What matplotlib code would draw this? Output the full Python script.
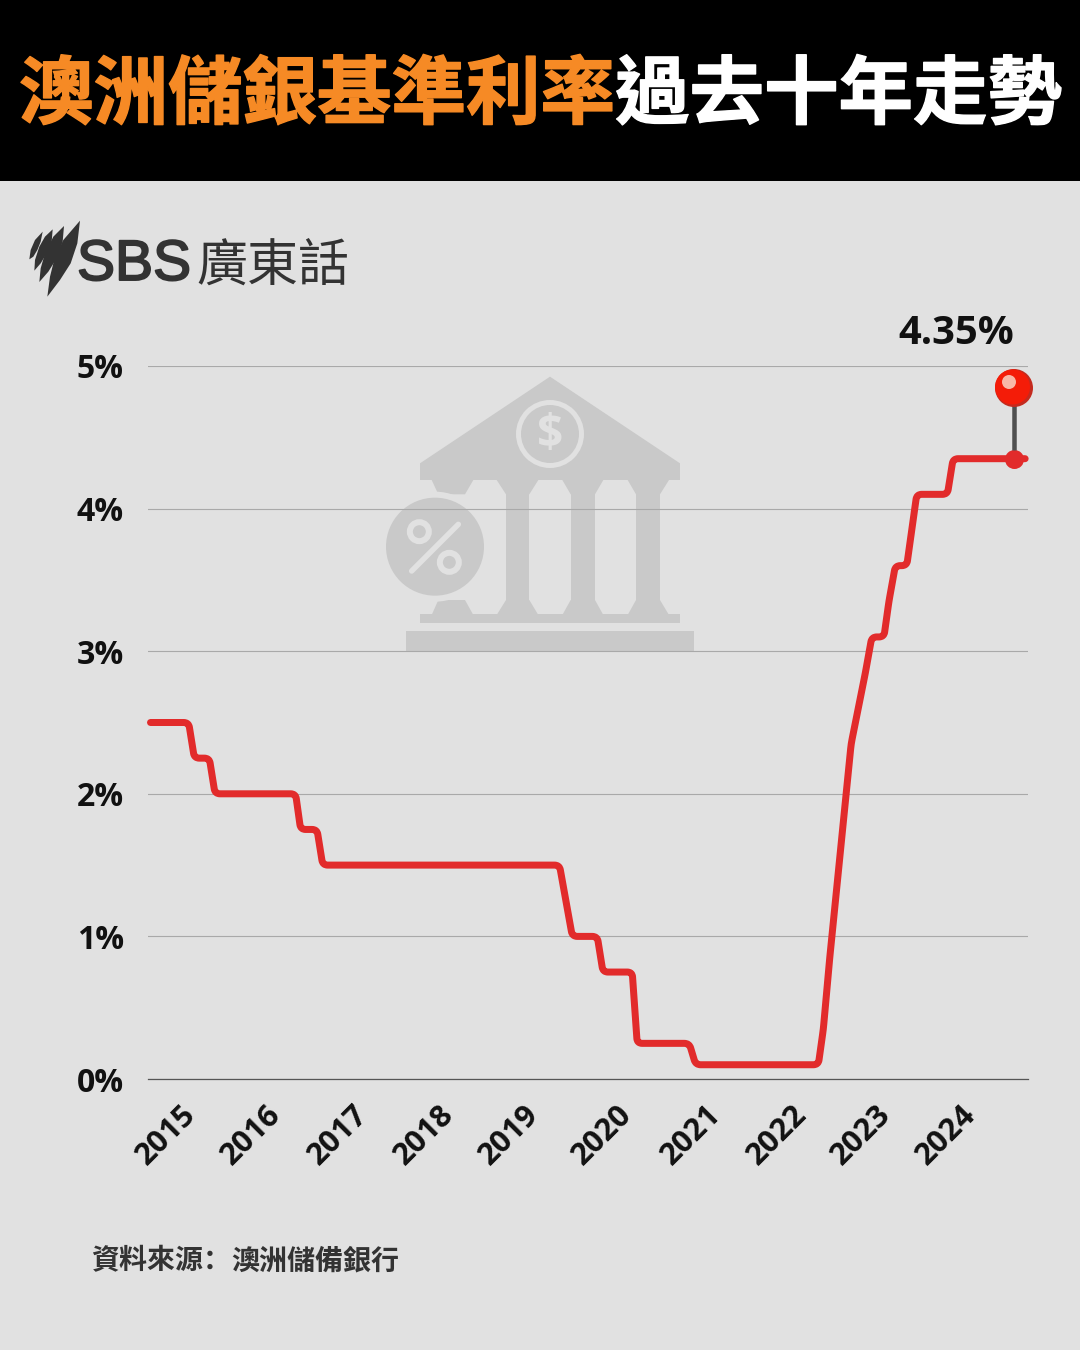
import matplotlib
matplotlib.use('Agg')
import matplotlib.pyplot as plt
import numpy as np
from matplotlib.path import Path
from matplotlib.patches import PathPatch, Polygon, Circle, Rectangle
import matplotlib.patheffects as pe

# ---------- data ----------
rows = [0.35, 5.7, 6.5, 8.6, 9.4, 20.7, 21.4, 23.7, 24.5, 57.7, 58.6, 59.5, 63.0, 63.8, 67.9, 68.6, 75.9, 76.8,
        94.0, 94.7, 95.6, 96.6, 97.6, 98.6, 99.6, 100.6, 101.5, 103.2, 103.9, 104.8, 106.4, 107.1, 107.8,
        112.1, 112.9, 123.0]
rates = [2.5, 2.5, 2.25, 2.25, 2.0, 2.0, 1.75, 1.75, 1.5, 1.5, 1.25, 1.0, 1.0, 0.75, 0.75, 0.25, 0.25, 0.10,
         0.10, 0.35, 0.85, 1.35, 1.85, 2.35, 2.60, 2.85, 3.10, 3.10, 3.35, 3.60, 3.60, 3.85, 4.10,
         4.10, 4.35, 4.35]
year_labels = ['2015', '2016', '2017', '2018', '2019', '2020', '2021', '2022', '2023', '2024']
year_rows = [4.55, 16.55, 28.65, 40.75, 52.75, 65.75, 78.15, 90.25, 102.05, 113.95]
y_ticks = [0, 1, 2, 3, 4, 5]
latest_row = 121.4
latest_rate = 4.35
title_orange = '澳洲儲銀基準利率'
title_white = '過去十年走勢'
source_label = '資料來源：'
source_name = '澳洲儲備銀行'

# ---------- style ----------
W, H = 1080, 1350
BG = '#e1e1e1'
ICON = '#c9c9c9'
RED = '#e22b2b'
CJK = ['Noto Sans CJK TC', 'DejaVu Sans']
LAT = ['Open Sans', 'DejaVu Sans']
def pt(px):
    return px * 0.72

fig = plt.figure(figsize=(W / 100, H / 100), dpi=100, facecolor=BG)

# overlay in pixel coordinates for decoration
bg = fig.add_axes([0, 0, 1, 1], zorder=0)
bg.set_xlim(0, W); bg.set_ylim(H, 0); bg.axis('off')

bg.add_patch(Rectangle((0, 0), W, 181, fc='black', ec='none'))
bg.text(19, 96, title_orange, color='#f68a25', fontsize=pt(74.5), family=CJK, weight='bold', ha='left', va='center',
        path_effects=[pe.withStroke(linewidth=1.0, foreground='#f68a25')])
bg.text(615, 96, title_white, color='white', fontsize=pt(74.5), family=CJK, weight='bold', ha='left', va='center',
        path_effects=[pe.withStroke(linewidth=1.0, foreground='white')])

# logo: four blades
blades = [
    [(240,62),(232,130),(212,190),(180,240),(142,290),(150,230),(165,170),(190,120)],
    [(192,78),(188,125),(170,175),(145,215),(118,246),(122,205),(135,160),(160,110)],
    [(158,88),(155,125),(140,160),(122,190),(103,212),(105,180),(118,140),(135,110)],
    [(128,95),(122,125),(112,150),(100,170),(88,178),(92,150),(105,120)],
]
for z in blades:
    bg.add_patch(Polygon([(a / 3, 200 + b / 3) for a, b in z], closed=True, fc='#333333', ec='none'))
bg.text(77, 265, 'SBS', color='#333333', fontsize=pt(57), family=['Liberation Sans'], ha='left', va='center',
        path_effects=[pe.withStroke(linewidth=1.4, foreground='#333333')])
bg.text(196, 266, '廣東話', color='#333333', fontsize=pt(51), family=CJK, weight='normal', ha='left', va='center')

# bank icon
def zp(a, b):
    return (370 + a / 3, 365 + b / 3)
def poly(pts, fc=ICON):
    bg.add_patch(Polygon([zp(*p) for p in pts], closed=True, fc=fc, ec='none'))
poly([(540,35),(930,295),(930,345),(150,345),(150,295)])
for l, r, il, ir in [(185,310,205,285),(380,505,408,478),(577,700,602,675),(773,897,798,870)]:
    poly([(l,345),(r,345),(ir,388),(il,388)])
    poly([(il,705),(ir,705),(r,750),(l,750)])
for il, ir in [(408,478),(602,675),(798,870)]:
    poly([(il,385),(ir,385),(ir,710),(il,710)])
poly([(150,748),(930,748),(930,773),(150,773)])
poly([(108,797),(972,797),(972,862),(108,862)])
bg.add_patch(Circle(zp(540,207), 34, fc=BG, ec='none'))
bg.add_patch(Circle(zp(540,207), 29, fc=ICON, ec='none'))
bg.text(*zp(540,212), '$', color=BG, fontsize=pt(46), family=LAT, weight='bold', ha='center', va='center')
bg.add_patch(Circle(zp(195,545), 55, fc=BG, ec='none'))
bg.add_patch(Circle(zp(195,545), 49, fc=ICON, ec='none'))
for c in [(148,500),(238,592)]:
    bg.add_patch(Circle(zp(*c), 9.5, fc=ICON, ec=BG, lw=pt(6)))
bg.plot([zp(125,618)[0], zp(265,478)[0]], [zp(125,618)[1], zp(265,478)[1]], color=BG, lw=pt(5.5), solid_capstyle='round')

bg.text(91, 1261, source_label, color='#333333', fontsize=pt(28), family=['Noto Sans CJK SC', 'DejaVu Sans'],
        weight='bold', ha='left', va='center')
bg.text(231, 1261, source_name, color='#333333', fontsize=pt(28), family=CJK, weight='bold', ha='left', va='center')

# main axes
L, R, T, B = 148, 1028, 366, 1079
ax = fig.add_axes([L / W, 1 - B / H, (R - L) / W, (B - T) / H], zorder=1)
ax.patch.set_alpha(0)
ax.set_xlim(0, 123.4)
ax.set_ylim(0, 5)
for s in ['top', 'right', 'left']:
    ax.spines[s].set_visible(False)
ax.spines['bottom'].set_color('#555555'); ax.spines['bottom'].set_linewidth(0.9)
ax.set_yticks(y_ticks)
ax.set_yticklabels([f'{v}%' for v in y_ticks], family=LAT, weight='bold', fontsize=pt(32), color='#111111')
ax.tick_params(axis='y', length=0, pad=pt(24))
ax.set_xticks(year_rows)
ax.set_xticklabels(year_labels, family=LAT, weight='bold', fontsize=pt(31), color='#111111', rotation=45,
                   ha='right', va='top', rotation_mode='anchor')
ax.tick_params(axis='x', length=0, pad=pt(21))
ax.grid(axis='y', color='#a9a9a9', lw=0.8)
ax.set_axisbelow(True)

# rate line with softened corners
P = ax.transData.transform(np.column_stack([rows, rates]))
verts, codes = [P[0]], [Path.MOVETO]
for i in range(1, len(P) - 1):
    a, b, c = P[i - 1], P[i], P[i + 1]
    d1 = np.linalg.norm(a - b); d2 = np.linalg.norm(c - b)
    r1 = min(5, d1 * 0.45); r2 = min(5, d2 * 0.45)
    verts += [b + (a - b) / d1 * r1, b, b + (c - b) / d2 * r2]
    codes += [Path.LINETO, Path.CURVE3, Path.CURVE3]
verts.append(P[-1]); codes.append(Path.LINETO)
verts = ax.transData.inverted().transform(np.array(verts))
ax.add_patch(PathPatch(Path(verts, codes), fc='none', ec=RED, lw=pt(7), capstyle='round', joinstyle='round',
                       clip_on=False, zorder=3))

# pin and latest value
ax.plot([latest_row], [latest_rate], 'o', ms=pt(19), color=RED, clip_on=False, zorder=4, mec='none')
top = fig.add_axes([0, 0, 1, 1], zorder=2)
top.set_xlim(0, W); top.set_ylim(H, 0); top.axis('off')
top.plot([1014, 1014], [395, 450], color='#4f4f4f', lw=pt(4.5), solid_capstyle='butt', zorder=1)
top.add_patch(Circle((1014, 388), 19, fc='#c42a1e', ec='none', zorder=2))
top.add_patch(Circle((1012.5, 387), 17.5, fc='#f41c08', ec='none', zorder=3))
top.add_patch(Circle((1009, 382), 7, fc='#f8b8a8', ec='none', zorder=4))
top.text(956, 333, f'{latest_rate}%', color='#111111', fontsize=pt(40), family=LAT, weight='bold', ha='center', va='center')

fig.savefig('out.png', dpi=100, facecolor=BG)
